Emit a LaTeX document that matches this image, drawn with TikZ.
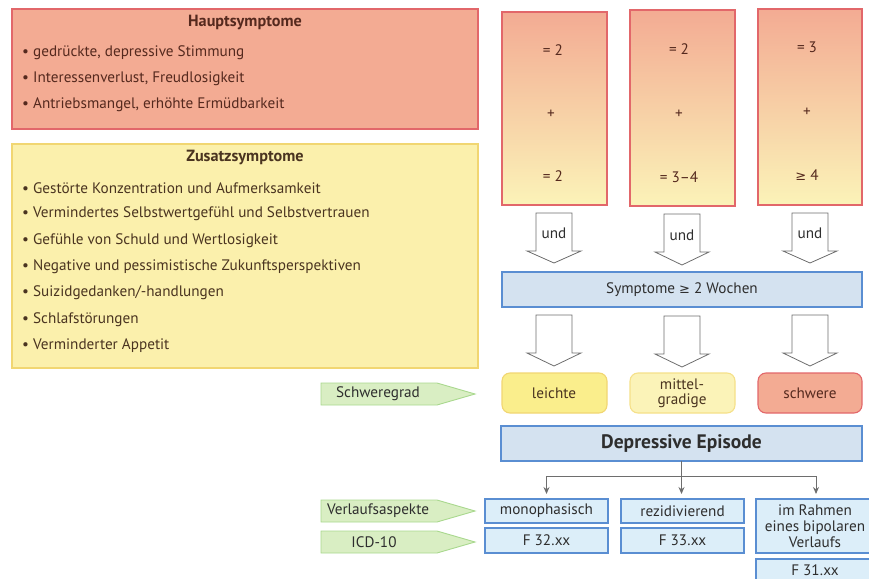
\documentclass[tikz,border=0pt]{standalone}
\usepackage{fontspec}
\setmainfont{PT Sans}
\newfontfamily\symf{DejaVu Sans}
\newcommand\mygeq{{\symf\fontsize{13}{15}\selectfont ≥}}
\usetikzlibrary{arrows.meta}
\definecolor{salmon}{HTML}{F3AB93}
\definecolor{redb}{HTML}{E2676A}
\definecolor{pyel}{HTML}{FBF0AC}
\definecolor{pyel2}{HTML}{FBF3B8}
\definecolor{yelb}{HTML}{F1D672}
\definecolor{yel}{HTML}{FAEE8C}
\definecolor{brn}{HTML}{55291E}
\definecolor{dbrn}{HTML}{4A3420}
\definecolor{bluef}{HTML}{D4E2F0}
\definecolor{blueb}{HTML}{5A8ED2}
\definecolor{lbluef}{HTML}{DCEEF9}
\definecolor{greenf}{HTML}{D9EEC3}
\definecolor{greenb}{HTML}{A9D88E}
\definecolor{txt}{HTML}{2E2E2E}
\definecolor{arr}{HTML}{6E6E6E}
\tikzset{
  box/.style={draw, line width=1.1pt, inner sep=0pt, outer sep=0pt, anchor=north west},
  hbox/.style={box, draw=redb, fill=salmon},
  zbox/.style={box, draw=yelb, fill=pyel},
  colbox/.style={box, draw=redb, top color=salmon, bottom color=pyel2},
  bbox/.style={box, draw=blueb, fill=bluef, text=txt},
  lbox/.style={box, draw=blueb, fill=lbluef, text=txt, align=center},
  sev/.style={box, rounded corners=8pt, align=center},
  txtn/.style={inner sep=0pt, font=\fontsize{15.2}{17}\selectfont},
  ttl/.style={inner sep=0pt, font=\fontsize{16.2}{18}\selectfont\bfseries},
  bul/.style={txtn, anchor=west},
  bigarrow/.style={draw=arr, fill=white, line width=0.8pt, line join=miter},
  conn/.style={draw=arr, line width=0.9pt},
  connar/.style={conn, -{Stealth[length=7pt,width=6pt]}, shorten >=5pt},
  tag/.style={draw=greenb, fill=greenf, line width=0.9pt},
}
\newcommand\bigarr[4]{\draw[bigarrow] ({#1-18},#2) -- ({#1+18},#2) -- ({#1+18},#3) -- ({#1+27},#3) -- (#1,#4) -- ({#1-27},#3) -- ({#1-18},#3) -- cycle;}
\newcommand\greentag[2]{\draw[tag] (321,#1) -- (437,#1) -- (475,{(#1+#2)/2}) -- (437,#2) -- (321,#2) -- cycle;}
\begin{document}
\begin{tikzpicture}[x=1pt,y=-1pt]
\useasboundingbox (0,0) rectangle (869,578);

% Hauptsymptome
\node[hbox, minimum width=466, minimum height=120] (haupt) at (12,9) {};
\node[ttl, text=brn] (htitle) at (245,22) {Hauptsymptome};
\node[bul, text=brn] (h1) at (22,53) {• gedrückte, depressive Stimmung};
\node[bul, text=brn] (h2) at (22,79) {• Interessenverlust, Freudlosigkeit};
\node[bul, text=brn] (h3) at (22,105) {• Antriebsmangel, erhöhte Ermüdbarkeit};

% Zusatzsymptome
\node[zbox, minimum width=466, minimum height=224] (zusatz) at (12,144) {};
\node[ttl, text=dbrn] (ztitle) at (245,157) {Zusatzsymptome};
\node[bul, text=dbrn] (z1) at (22,188) {• Gestörte Konzentration und Aufmerksamkeit};
\node[bul, text=dbrn] (z2) at (22,214) {• Vermindertes Selbstwertgefühl und Selbstvertrauen};
\node[bul, text=dbrn] (z3) at (22,241) {• Gefühle von Schuld und Wertlosigkeit};
\node[bul, text=dbrn] (z4) at (22,267) {• Negative und pessimistische Zukunftsperspektiven};
\node[bul, text=dbrn] (z5) at (22,293) {• Suizidgedanken/-handlungen};
\node[bul, text=dbrn] (z6) at (22,320) {• Schlafstörungen};
\node[bul, text=dbrn] (z7) at (22,346) {• Verminderter Appetit};

% columns
\node[colbox, minimum width=105, minimum height=193] (c1) at (502,12) {};
\node[colbox, minimum width=105, minimum height=196] (c2) at (630,10) {};
\node[colbox, minimum width=104, minimum height=196] (c3) at (758,9) {};
\node[txtn, text=brn] (c1a) at (553,50) {= 2};
\node[txtn, text=brn] (c1b) at (551,114) {+};
\node[txtn, text=brn] (c1c) at (553,176) {= 2};
\node[txtn, text=brn] (c2a) at (679,49) {= 2};
\node[txtn, text=brn] (c2b) at (679,114) {+};
\node[txtn, text=brn] (c2c) at (679,177) {= 3–4};
\node[txtn, text=brn] (c3a) at (807,47) {= 3};
\node[txtn, text=brn] (c3b) at (807,112) {+};
\node[txtn, text=brn] (c3c) at (807,175) {\mygeq\ 4};

% big arrows (upper)
\bigarr{554}{213}{251}{263}
\bigarr{682}{214}{252}{265}
\bigarr{810}{213}{251}{263}
\node[txtn, text=txt] (u1) at (554,233) {und};
\node[txtn, text=txt] (u2) at (682,235) {und};
\node[txtn, text=txt] (u3) at (810,233) {und};

% Wochen
\node[bbox, minimum width=360, minimum height=35] (woch) at (502,272) {};
\node[txtn, text=txt] (wocht) at (682,290) {Symptome \mygeq\ 2 Wochen};

% big arrows (lower)
\bigarr{554}{315}{353}{366}
\bigarr{682}{316}{354}{367}
\bigarr{810}{315}{353}{366}

% severity
\node[sev, draw=yelb, fill=yel, minimum width=105, minimum height=40] (leicht) at (502,373) {};
\node[txtn, text=dbrn] (leichtt) at (554,393) {leichte};
\node[sev, draw=yelb!60!pyel, fill=pyel2, minimum width=105, minimum height=40] (mittel) at (630,373) {};
\node[txtn, text=dbrn, align=center, font=\fontsize{15.2}{15}\selectfont] (mittelt) at (682,393) {mittel-\\gradige};
\node[sev, draw=redb, fill=salmon, minimum width=104, minimum height=40] (schwer) at (758,373) {};
\node[txtn, text=brn] (schwert) at (810,393) {schwere};

% green tags
\greentag{383}{405}
\node[txtn, text=txt] (schwg) at (378,394) {Schweregrad};
\greentag{500}{522}
\node[txtn, text=txt] (verl) at (378,511) {Verlaufsaspekte};
\greentag{531}{553}
\node[txtn, text=txt] (icd) at (374,542) {ICD-10};

% Depressive Episode
\node[bbox, minimum width=361, minimum height=35] (dep) at (501,426) {};
\node[txtn, text=txt, font=\fontsize{19.5}{22}\selectfont\bfseries] (dept) at (681.5,443.5) {Depressive Episode};

% lower boxes
\node[lbox, minimum width=123, minimum height=24] (mono) at (485,499) {};
\node[txtn, text=txt] (monot) at (546.5,511) {monophasisch};
\node[lbox, minimum width=123, minimum height=25] (f32) at (485,528) {};
\node[txtn, text=txt] (f32t) at (546.5,540.5) {F 32.xx};
\node[lbox, minimum width=123, minimum height=24] (rez) at (621,499) {};
\node[txtn, text=txt] (rezt) at (682.5,511) {rezidivierend};
\node[lbox, minimum width=123, minimum height=25] (f33) at (621,528) {};
\node[txtn, text=txt] (f33t) at (682.5,540.5) {F 33.xx};
\node[lbox, minimum width=120, minimum height=54] (bip) at (756,499) {};
\node[txtn, text=txt, align=center, font=\fontsize{15.2}{16}\selectfont] (bipt) at (815,526) {im Rahmen\\eines bipolaren\\Verlaufs};
\node[lbox, minimum width=120, minimum height=30] (f31) at (756,559) {};
\node[txtn, text=txt] (f31t) at (815,570) {F 31.xx};

% connectors
\coordinate (br) at (681.5,476);
\draw[conn] (dep.south) -- (br);
\draw[connar] (br) -| (mono.north);
\draw[connar] (br) -- (rez.north -| br);
\draw[connar] (br) -| (bip.north);
\end{tikzpicture}
\end{document}
